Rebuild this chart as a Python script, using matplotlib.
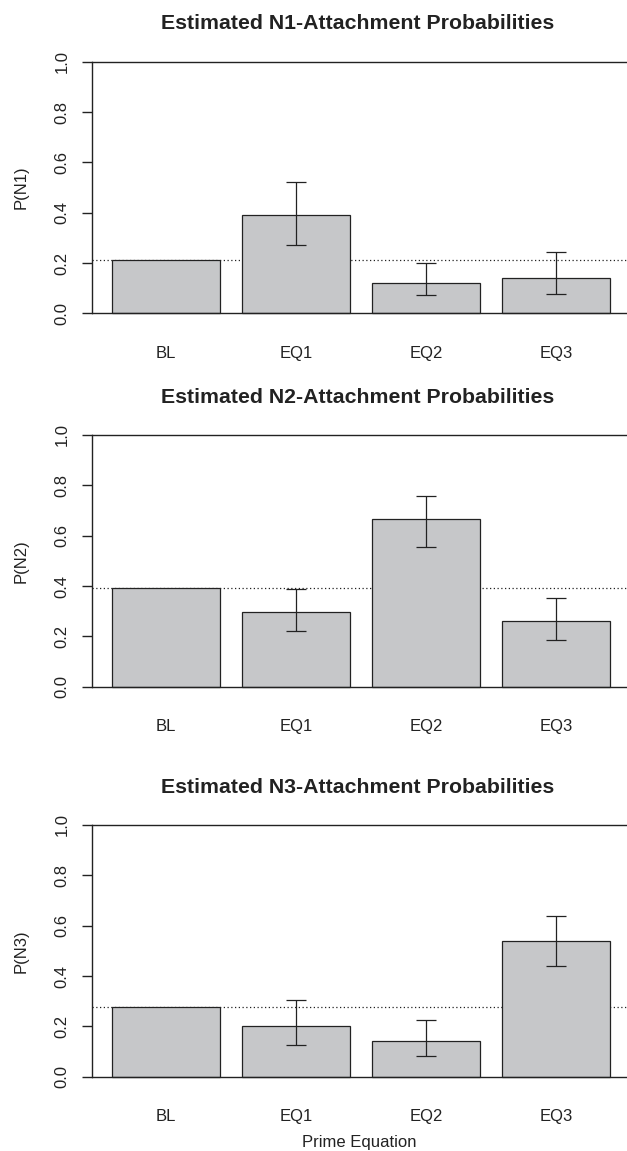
import numpy as np
import matplotlib
matplotlib.use("Agg")
import matplotlib.pyplot as plt

plt.rcParams['font.family'] = ['Liberation Sans', 'DejaVu Sans']

# data
categories = ["BL", "EQ1", "EQ2", "EQ3"]
titles = ["Estimated N1-Attachment Probabilities",
          "Estimated N2-Attachment Probabilities",
          "Estimated N3-Attachment Probabilities"]
ylabels = ["P(N1)", "P(N2)", "P(N3)"]

n1_prob = [0.213, 0.391, 0.119, 0.142]
n1_lower = [np.nan, 0.272, 0.072, 0.076]
n1_upper = [np.nan, 0.523, 0.201, 0.245]

n2_prob = [0.392, 0.295, 0.668, 0.260]
n2_lower = [np.nan, 0.221, 0.556, 0.185]
n2_upper = [np.nan, 0.388, 0.759, 0.352]

n3_prob = [0.278, 0.203, 0.142, 0.539]
n3_lower = [np.nan, 0.127, 0.083, 0.438]
n3_upper = [np.nan, 0.305, 0.225, 0.637]

panels = [(n1_prob, n1_lower, n1_upper),
          (n2_prob, n2_lower, n2_upper),
          (n3_prob, n3_lower, n3_upper)]

W, H = 627, 1151
fig = plt.figure(figsize=(W / 100, H / 100), dpi=100)

# pixel rows of the 0 and 1 lines in each panel
zero_px = [313.3, 686.7, 1076.7]
one_px = [61.7, 435.0, 825.0]

# R barplot geometry: width 1, space 0.2
centers = 0.7 + 1.2 * np.arange(len(categories))
ax_left_px = 92
x0 = 0.016
x1 = 4.8 + (W - 610) / 109.0

bar_col = "#c6c7c9"
line_col = "#222222"

for i, (prob, lo, up) in enumerate(panels):
    unit = zero_px[i] - one_px[i]
    bot = zero_px[i] + 0.04 * unit
    top = one_px[i] - 0.04 * unit
    ax = fig.add_axes([ax_left_px / W, (H - bot) / H, 1 - ax_left_px / W, (bot - top) / H])
    ax.set_xlim(x0, x1)
    ax.set_ylim(-0.04, 1.04)

    ax.bar(centers, prob, width=1.0, color=bar_col, edgecolor=line_col, linewidth=0.9, zorder=2)
    for j in range(1, len(categories)):
        ax.errorbar(centers[j], prob[j],
                    yerr=[[prob[j] - lo[j]], [up[j] - prob[j]]],
                    fmt="none", ecolor=line_col, elinewidth=0.9, capsize=7.5, capthick=0.9, zorder=3)

    ax.axhline(prob[0], color=line_col, linestyle=(0, (1, 2)), linewidth=0.9, zorder=1)
    ax.axhline(0, color=line_col, linewidth=1.0, zorder=4)
    ax.axhline(1, color=line_col, linewidth=1.0, zorder=4)

    for s in ["top", "right", "bottom"]:
        ax.spines[s].set_visible(False)
    ax.spines["left"].set_bounds(0, 1)
    ax.spines["left"].set_color(line_col)
    ax.spines["left"].set_linewidth(1.0)

    ax.set_yticks([0.0, 0.2, 0.4, 0.6, 0.8, 1.0])
    ax.set_yticklabels(["0.0", "0.2", "0.4", "0.6", "0.8", "1.0"], rotation=90, va="center")
    ax.tick_params(axis="y", length=7, width=1.0, color=line_col, labelsize=12, pad=9,
                   labelcolor="#222222")
    ax.set_xticks(centers)
    ax.set_xticklabels(categories)
    ax.tick_params(axis="x", length=0, labelsize=12, pad=16, labelcolor="#222222")

    ax.set_ylabel(ylabels[i], fontsize=12, color="#222222", labelpad=19)
    ax.set_title(titles[i], fontsize=15.3, fontweight="bold", color="#222222", pad=16,
                 x=(358 - ax_left_px) / (W - ax_left_px))
    if i == 2:
        ax.set_xlabel("Prime Equation", fontsize=12, color="#222222", labelpad=8)

fig.savefig("out.png", dpi=100)
